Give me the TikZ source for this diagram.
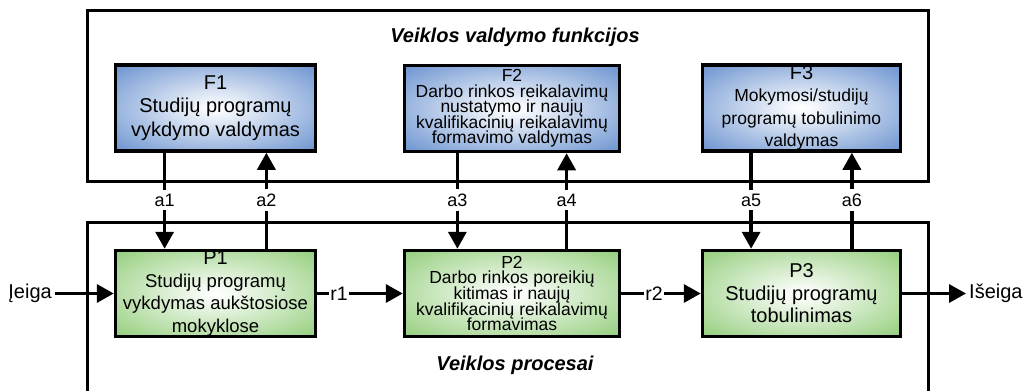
\documentclass[tikz,border=0pt]{standalone}
\usepackage{fontspec}
\setmainfont{Liberation Sans}
\usetikzlibrary{arrows.meta,calc}
\definecolor{fblue}{RGB}{70,120,196}
\definecolor{fgreen}{RGB}{122,194,92}
\pgfdeclareradialshading{bshade}{\pgfpoint{0bp}{0bp}}{color(0bp)=(white); color(3bp)=(white!95!fblue); color(44bp)=(fblue); color(60bp)=(fblue)}
\pgfdeclareradialshading{gshade}{\pgfpoint{0bp}{0bp}}{color(0bp)=(white); color(3bp)=(white!95!fgreen); color(44bp)=(fgreen); color(60bp)=(fgreen)}
\newcommand{\fsz}[2]{\fontsize{#1}{#2}\selectfont\lineskiplimit=-60pt\relax}
\begin{document}
\begin{tikzpicture}[x=1pt,y=-1pt,
  frame/.style={draw,line width=3pt},
  boxbase/.style={draw,line width=3.5pt,shade,align=center,inner sep=0pt,minimum height=86pt},
  fbox/.style={boxbase,shading=bshade},
  pbox/.style={boxbase,shading=gshade},
  ln/.style={line width=3.5pt},
  arr/.style={line width=3.5pt,-{Triangle[length=17pt,width=18pt]}},
  lab/.style={fill=white,inner xsep=2pt,inner ysep=4pt,font=\fsz{18}{18}},
  ext/.style={inner xsep=3pt,inner ysep=2pt,font=\fsz{20}{20}},
  rlab/.style={fill=white,inner xsep=1pt,inner ysep=2pt,font=\fsz{19.5}{19.5}},
  title/.style={font=\fsz{20}{24}\bfseries\itshape}
]
\useasboundingbox (0,0) rectangle (1029,391);
\clip (0,0) rectangle (1029,391);
% frames
\draw[frame] (87,10) rectangle (928,181);
\draw[frame] (87,400) -- (87,222) -- (928,222) -- (928,400);
\node[title] (t1) at (515,37) {Veiklos valdymo funkcijos};
\node[title] (t2) at (515,365) {Veiklos procesai};
% function boxes
\node[fbox,minimum width=200pt,font=\fsz{20}{23.5}] (F1) at (215.5,108)
  {F1\\Studijų programų\\vykdymo valdymas};
\node[fbox,minimum width=215pt,font=\fsz{17.5}{15.6}] (F2) at (512,108.5)
  {F2\\Darbo rinkos reikalavimų\\nustatymo ir naujų\\kvalifikacinių reikalavimų\\formavimo valdymas};
\node[fbox,minimum width=198pt,font=\fsz{17.5}{22.5}] (F3) at (801.5,108)
  {{\fsz{20}{22.5}F3}\\Mokymosi/studijų\\programų tobulinimo\\valdymas};
% process boxes
\node[pbox,minimum width=200pt,font=\fsz{18.5}{22.5}] (P1) at (215.5,293.5)
  {{\fsz{20}{22.5}P1}\\Studijų programų\\vykdymas aukštosiose\\mokyklose};
\node[pbox,minimum width=215pt,font=\fsz{17.5}{15.6}] (P2) at (512,293.5)
  {P2\\Darbo rinkos poreikių\\kitimas ir naujų\\kvalifikacinių reikalavimų\\formavimas};
\node[pbox,minimum width=198pt,font=\fsz{20}{22.5}] (P3) at (801.5,293.5)
  {P3\\Studijų programų\\tobulinimas};
% vertical connector positions
\coordinate (my) at (0,200);
\coordinate (x1) at ($(F1.south west)!0.25!(F1.south east)$);
\coordinate (x2) at ($(F1.south west)!0.75!(F1.south east)$);
\coordinate (x3) at ($(F2.south west)!0.25!(F2.south east)$);
\coordinate (x4) at ($(F2.south west)!0.75!(F2.south east)$);
\coordinate (x5) at ($(F3.south west)!0.25!(F3.south east)$);
\coordinate (x6) at ($(F3.south west)!0.75!(F3.south east)$);
\node[lab] (la1) at (x1 |- my) {a1};
\node[lab] (la2) at (x2 |- my) {a2};
\node[lab] (la3) at (x3 |- my) {a3};
\node[lab] (la4) at (x4 |- my) {a4};
\node[lab] (la5) at (x5 |- my) {a5};
\node[lab] (la6) at (x6 |- my) {a6};
\draw[ln] (F1.south -| x1) -- (la1); \draw[arr] (la1) -- (P1.north -| x1);
\draw[ln] (P1.north -| x2) -- (la2); \draw[arr] (la2) -- (F1.south -| x2);
\draw[ln] (F2.south -| x3) -- (la3); \draw[arr] (la3) -- (P2.north -| x3);
\draw[ln] (P2.north -| x4) -- (la4); \draw[arr] (la4) -- (F2.south -| x4);
\draw[ln] (F3.south -| x5) -- (la5); \draw[arr] (la5) -- (P3.north -| x5);
\draw[ln] (P3.north -| x6) -- (la6); \draw[arr] (la6) -- (F3.south -| x6);
% horizontal flow
\node[ext,anchor=east] (in) at (55,293.5) {Įeiga};
\node[ext,anchor=west] (out) at (966,293.5) {Išeiga};
\node[rlab] (r1) at (339,293.5) {r1};
\node[rlab] (r2) at (654,293.5) {r2};
\draw[arr] (in) -- (P1.west);
\draw[ln] (P1.east) -- (r1); \draw[arr] (r1) -- (P2.west);
\draw[ln] (P2.east) -- (r2); \draw[arr] (r2) -- (P3.west);
\draw[arr] (P3.east) -- (out);
\end{tikzpicture}
\end{document}
